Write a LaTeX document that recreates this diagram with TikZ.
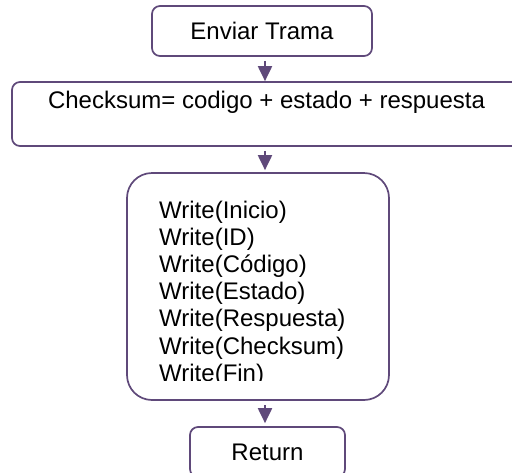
\documentclass[tikz,border=0pt]{standalone}
\usepackage{fontspec}
\setmainfont{Liberation Sans}
\usetikzlibrary{arrows.meta}
\definecolor{boxpurple}{HTML}{5F497A}
\begin{document}
\begin{tikzpicture}[x=1pt,y=-1pt,
  box/.style={draw=boxpurple, line width=1.7pt, rounded corners=8pt, inner sep=0pt, fill=white},
  flow/.style={draw=boxpurple, line width=2pt, -{Triangle[width=14pt,length=15pt]}},
  txt/.style={font=\fontsize{24}{27.2}\selectfont, inner sep=0pt, text=black}]
\clip (0,0) rectangle (512,472);
\fill[white] (0,0) rectangle (512,472);
% boxes
\node[box, txt, minimum width=220pt, minimum height=50pt] (b1) at (262,31) {Enviar Trama};
\node[box, minimum width=508pt, minimum height=64pt] (b2) at (266,114) {};
\node[txt, anchor=base] (b2t) at (266.5,108) {Checksum= codigo + estado + respuesta};
\node[box, rounded corners=25pt, minimum width=262pt, minimum height=227pt] (b3) at (258,286.5) {};
\begin{scope}
  \clip (127,173) rectangle (389,380);
  \node[txt, anchor=north west, align=left] (b3t) at (159,200.5) {Write(Inicio)\\Write(ID)\\Write(Código)\\Write(Estado)\\Write(Respuesta)\\Write(Checksum)\\Write(Fin)};
\end{scope}
\node[box, txt, minimum width=155pt, minimum height=50pt] (b4) at (267.5,452) {Return};
% connectors
\coordinate (ax) at (265,0);
\draw[flow] ([yshift=-4pt]b1.south -| ax) -- (b2.north -| ax);
\draw[flow] ([yshift=-4pt]b2.south -| ax) -- ([yshift=2pt]b3.north -| ax);
\draw[flow] ([yshift=-4pt]b3.south -| ax) -- ([yshift=3pt]b4.north -| ax);
\end{tikzpicture}
\end{document}
